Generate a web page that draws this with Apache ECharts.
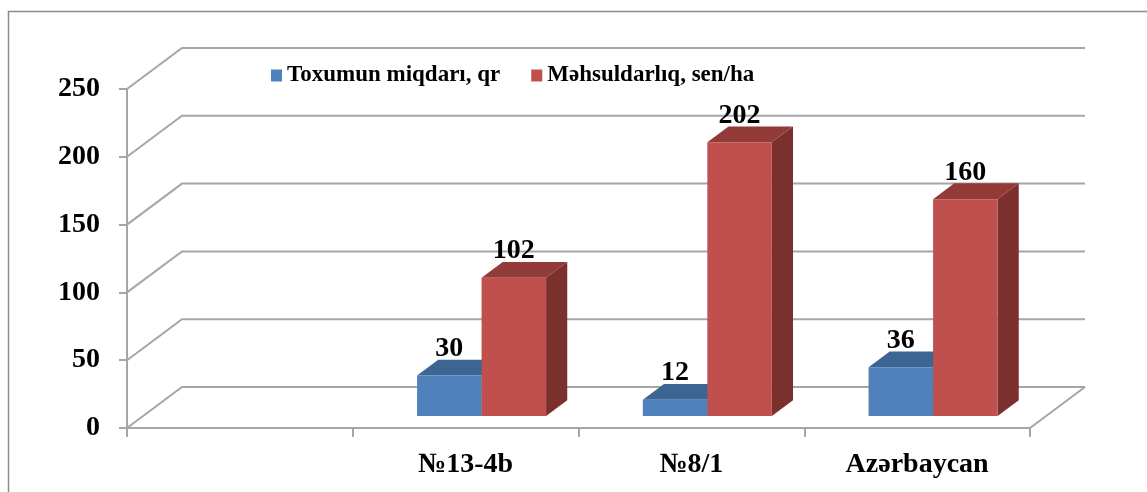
<!DOCTYPE html>
<html>
<head>
<meta charset="utf-8">
<script src="https://cdn.jsdelivr.net/npm/echarts@6/dist/echarts.min.js"></script>
<style>
  html, body { margin: 0; padding: 0; background: #fff; }
  #chart { width: 1147px; height: 492px; }
</style>
</head>
<body>
<div id="chart"></div>
<script>
// ---- data ----
const categories = ['', '№13-4b', '№8/1', 'Azərbaycan'];
const seedValues = [null, 30, 12, 36];        // Toxumun miqdarı, qr
const yieldValues = [null, 102, 202, 160];    // Məhsuldarlıq, sen/ha
const yTicks = [0, 50, 100, 150, 200, 250];
const seriesNames = ['Toxumun miqdarı, qr', 'Məhsuldarlıq, sen/ha'];

// ---- styles ----
const FONT = "'Liberation Serif', 'Times New Roman', serif";
const GRID_COLOR = '#a6a6a6';
const DX = 55, DY = -41;          // depth of 3D wall
const F1 = 0.29, F2 = 0.385;      // bar front offset / bar depth (fraction of wall depth)
const palette = [
  { front: '#4F81BD', top: '#3C6593', side: '#2F4F76' },
  { front: '#C0504D', top: '#933B39', side: '#7C302E' }
];

function toData(arr) {
  const out = [];
  arr.forEach((v, i) => { if (v !== null) out.push([i, v]); });
  return out;
}

function frameItem(params, api) {
  const cs = params.coordSys;
  const left = cs.x, right = cs.x + cs.width;
  const v = api.value(1);
  const y = api.coord([0, v])[1];
  const children = [{
    type: 'polyline',
    shape: { points: [[left, y], [left + DX, y + DY], [right + DX, y + DY]] },
    style: { stroke: GRID_COLOR, lineWidth: 2, fill: null }
  }];
  if (v === 0) {
    children.push({
      type: 'line',
      shape: { x1: right, y1: y, x2: right + DX, y2: y + DY },
      style: { stroke: GRID_COLOR, lineWidth: 2 }
    });
  }
  return { type: 'group', children };
}

function barRenderer(k) {
  return function (params, api) {
    const cat = api.value(0), v = api.value(1);
    const base = api.coord([cat, 0]);
    const topP = api.coord([cat, v]);
    const band = api.size([1, 0])[0];
    const w = band / 3.5;
    const x0 = base[0] - w + k * w + DX * F1;
    const yB = base[1] + DY * F1;
    const yT = topP[1] + DY * F1;
    const dx = DX * F2, dy = DY * F2;
    const c = palette[k];
    return {
      type: 'group',
      children: [
        { type: 'polygon', shape: { points: [[x0 + w, yT], [x0 + w + dx, yT + dy], [x0 + w + dx, yB + dy], [x0 + w, yB]] },
          style: { fill: c.side } },
        { type: 'polygon', shape: { points: [[x0, yT], [x0 + w, yT], [x0 + w + dx, yT + dy], [x0 + dx, yT + dy]] },
          style: { fill: c.top } },
        { type: 'rect', shape: { x: x0, y: yT, width: w, height: yB - yT },
          style: { fill: c.front } },
        { type: 'text', x: x0 + w / 2, y: yT + dy + 3,
          style: { text: String(v), fill: '#000', font: 'bold 28px ' + FONT, align: 'center', verticalAlign: 'bottom' } }
      ]
    };
  };
}

const chart = echarts.init(document.getElementById('chart'), null, { renderer: 'canvas' });
chart.setOption({
  animation: false,
  backgroundColor: '#fff',
  graphic: [{
    type: 'rect', silent: true, z: -10,
    shape: { x: 8.5, y: 11.5, width: 1200, height: 600 },
    style: { fill: null, stroke: '#8c8c8c', lineWidth: 1.5 }
  }],
  legend: {
    data: seriesNames,
    left: 271, top: 64, padding: 0,
    icon: 'rect', itemWidth: 11, itemHeight: 12, itemGap: 31,
    textStyle: { fontSize: 23, fontWeight: 'bold', fontFamily: FONT, color: '#000' }
  },
  grid: { left: 127, top: 89, width: 903, height: 339, outerBoundsMode: 'none', containLabel: false },
  xAxis: {
    type: 'category',
    data: categories,
    boundaryGap: true,
    axisLine: { show: true, lineStyle: { color: GRID_COLOR, width: 2 } },
    axisTick: { show: true, length: 9, lineStyle: { color: GRID_COLOR, width: 2 } },
    axisLabel: { interval: 0, margin: 23, fontSize: 28, fontWeight: 'bold', fontFamily: FONT, color: '#000' },
    splitLine: { show: false }
  },
  yAxis: {
    type: 'value',
    min: 0, max: 250, interval: 50,
    axisLine: { show: true, lineStyle: { color: GRID_COLOR, width: 2 } },
    axisTick: { show: true, length: 8, lineStyle: { color: GRID_COLOR, width: 2 } },
    axisLabel: { margin: 27, fontSize: 28, fontWeight: 'bold', fontFamily: FONT, color: '#000' },
    splitLine: { show: false }
  },
  series: [
    {
      type: 'custom', name: 'frame', z: 1, silent: true,
      renderItem: frameItem,
      data: yTicks.map(v => [0, v]),
      encode: { x: 0, y: 1 }
    },
    {
      type: 'custom', name: seriesNames[0], z: 2,
      itemStyle: { color: palette[0].front },
      renderItem: barRenderer(0),
      data: toData(seedValues),
      encode: { x: 0, y: 1 }
    },
    {
      type: 'custom', name: seriesNames[1], z: 3,
      itemStyle: { color: palette[1].front },
      renderItem: barRenderer(1),
      data: toData(yieldValues),
      encode: { x: 0, y: 1 }
    }
  ]
});
</script>
</body>
</html>
